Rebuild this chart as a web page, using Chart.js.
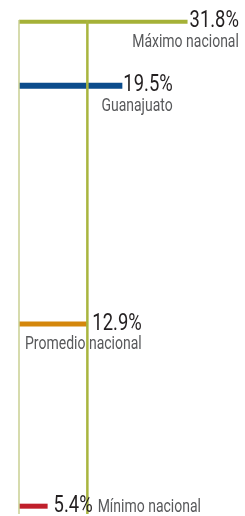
<!DOCTYPE html>
<html>
<head>
<meta charset="utf-8">
<script src="https://cdn.jsdelivr.net/npm/chart.js@4/dist/chart.umd.min.js"></script>
<style>
  html, body { margin: 0; padding: 0; background: #fff; }
  #chart { display: block; }
</style>
</head>
<body>
<canvas id="chart" width="245" height="516"></canvas>
<script>
// data
var categorias = ['Máximo nacional', 'Guanajuato', 'Promedio nacional', 'Mínimo nacional'];
var valores = [31.8, 19.5, 12.9, 5.4];
var posiciones = [1, 5.1, 20.35, 32];   // lugar en el orden nacional (eje vertical)

// styles
var colores = ['#a5b137', '#0b4c8c', '#d4870c', '#c01f2b'];
var grosor = [4, 6, 5, 5];
var gapTexto = [2, 1, 5, 6];
var enLinea = [false, false, false, true];
var FUENTE = 'Roboto, "Liberation Sans", sans-serif';
var ANGOSTO = 0.8;   // letra condensada

document.addEventListener('DOMContentLoaded', function() {
    var datasets = [];

    // eje izquierdo
    datasets.push({
        data: [{x: 0, y: 0.9}, {x: 0, y: 32.5}],
        borderColor: '#c9cf93',
        borderWidth: 1.5
    });
    // linea del promedio
    datasets.push({
        data: [{x: valores[2], y: 0.9}, {x: valores[2], y: 32.5}],
        borderColor: '#a9b53f',
        borderWidth: 2.5
    });
    // barras
    for (let i = 0; i < valores.length; i++) {
        datasets.push({
            label: categorias[i],
            data: [{x: 0, y: posiciones[i]}, {x: valores[i], y: posiciones[i]}],
            borderColor: colores[i],
            borderWidth: grosor[i],
            borderCapStyle: 'butt'
        });
    }

    function texto(ctx, t, x, y, align) {
        ctx.save();
        ctx.translate(x, y);
        ctx.scale(ANGOSTO, 1);
        ctx.textAlign = align;
        ctx.fillText(t, 0, 0);
        ctx.restore();
        return ctx.measureText(t).width * ANGOSTO;
    }

    var etiquetas = {
        id: 'etiquetas',
        afterDatasetsDraw: function(chart) {
            var ctx = chart.ctx;
            var sx = chart.scales.x, sy = chart.scales.y;
            ctx.save();
            ctx.textBaseline = 'middle';
            for (let i = 0; i < valores.length; i++) {
                var x = sx.getPixelForValue(valores[i]) + gapTexto[i];
                var y = sy.getPixelForValue(posiciones[i]);
                var txt = valores[i].toFixed(1) + '%';
                ctx.font = '23px ' + FUENTE;
                ctx.fillStyle = '#231f20';
                var w = texto(ctx, txt, x, y, 'left');
                ctx.font = '17.5px ' + FUENTE;
                ctx.fillStyle = '#58595b';
                if (enLinea[i]) {
                    texto(ctx, categorias[i], x + w + 5, y + 1, 'left');
                } else {
                    texto(ctx, categorias[i], x + w, y + 21, 'right');
                }
            }
            ctx.restore();
        }
    };

    new Chart(document.getElementById('chart').getContext('2d'), {
        type: 'line',
        data: { datasets: datasets },
        options: {
            responsive: false,
            animation: false,
            clip: false,
            layout: { padding: { left: 19, right: 14, top: 6, bottom: 2 } },
            elements: { point: { radius: 0, hoverRadius: 0 }, line: { tension: 0 } },
            scales: {
                x: { type: 'linear', min: 0, max: 40, display: false },
                y: { type: 'linear', min: 0, max: 32.5, reverse: true, display: false }
            },
            plugins: { legend: { display: false }, tooltip: { enabled: false } }
        },
        plugins: [etiquetas]
    });
});
</script>
</body>
</html>
